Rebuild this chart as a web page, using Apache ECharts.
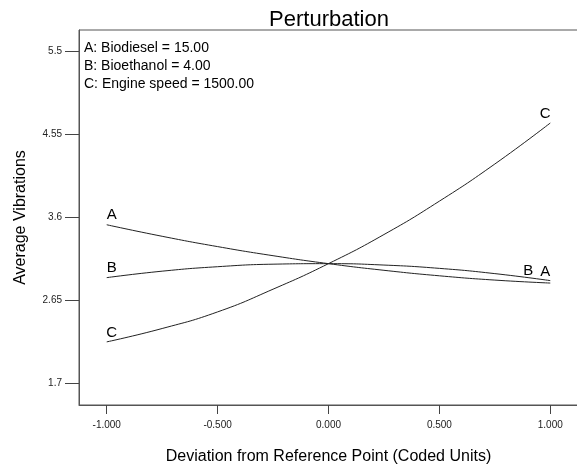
<!DOCTYPE html>
<html>
<head>
<meta charset="utf-8">
<script src="https://cdn.jsdelivr.net/npm/echarts@6/dist/echarts.min.js"></script>
<style>html,body{margin:0;padding:0;background:#fff}#c{width:577px;height:466px}</style>
</head>
<body>
<div id="c"></div>
<script>
const xValues = [-1, -0.75, -0.5, -0.25, 0, 0.25, 0.5, 0.75, 1];
const seriesA = [3.517, 3.385, 3.267, 3.163, 3.072, 2.996, 2.933, 2.884, 2.850];
const seriesB = [2.912, 2.986, 3.037, 3.066, 3.072, 3.056, 3.018, 2.958, 2.878];
const seriesC = [2.177, 2.33, 2.52, 2.78, 3.072, 3.405, 3.787, 4.212, 4.681];
const yTicks = [1.7, 2.65, 3.6, 4.55, 5.5];
const xTicks = [-1, -0.5, 0, 0.5, 1];
const factorLines = ['A: Biodiesel = 15.00', 'B: Bioethanol = 4.00', 'C: Engine speed = 1500.00'];
const seriesNames = ['A', 'B', 'C'];

const FONT = 'Liberation Sans, Arial, sans-serif';
const labelStyles = {
  A: [{position: 'top', offset: [5, 4]}, {position: 'top', offset: [-5, 2]}],
  B: [{position: 'top', offset: [5, 4]}, {position: 'top', offset: [-22, 4]}],
  C: [{position: 'top', offset: [5, 4]}, {position: 'top', offset: [-5, 4]}]
};

function buildData(name, vals) {
  return vals.map((v, i) => {
    const item = {value: [xValues[i], v]};
    if (i === 0 || i === vals.length - 1) {
      const s = labelStyles[name][i === 0 ? 0 : 1];
      item.label = {show: true, formatter: name, position: s.position, offset: s.offset,
        fontSize: 15, color: '#000', fontFamily: FONT, opacity: 1};
    }
    return item;
  });
}

const chart = echarts.init(document.getElementById('c'), null, {renderer: 'canvas'});
const allVals = {A: seriesA, B: seriesB, C: seriesC};
chart.setOption({
  animation: false,
  backgroundColor: '#fff',
  textStyle: {fontFamily: FONT},
  title: {
    text: 'Perturbation', left: 324, top: 4, textAlign: 'center',
    textStyle: {fontSize: 22, fontWeight: 'normal', color: '#000', fontFamily: FONT}
  },
  grid: {left: 79, top: 30, width: 499, height: 375, show: true, borderColor: '#555', borderWidth: 1,
    containLabel: false, outerBoundsMode: 'none'},
  xAxis: {
    type: 'value', min: -1.125, max: 1.125,
    name: 'Deviation from Reference Point (Coded Units)', nameLocation: 'middle', nameGap: 44,
    nameTextStyle: {fontSize: 16, color: '#000'},
    axisLine: {show: true, onZero: false, lineStyle: {color: '#555', width: 1}},
    axisTick: {show: true, customValues: xTicks, length: 9, lineStyle: {color: '#444'}},
    axisLabel: {show: true, customValues: xTicks, fontSize: 10, color: '#222', margin: 15,
      formatter: v => v.toFixed(3)},
    splitLine: {show: false}
  },
  yAxis: {
    type: 'value', min: 1.455, max: 5.745,
    name: 'Average Vibrations', nameLocation: 'middle', nameGap: 50, nameRotate: 90,
    nameTextStyle: {fontSize: 16, color: '#000'},
    axisLine: {show: true, onZero: false, lineStyle: {color: '#555', width: 1}},
    axisTick: {show: true, customValues: yTicks, length: 14, lineStyle: {color: '#444'}},
    axisLabel: {show: true, customValues: yTicks, fontSize: 10, color: '#222', margin: 17,
      formatter: v => String(v)},
    splitLine: {show: false}
  },
  graphic: [{
    type: 'text', left: 84, top: 39,
    style: {text: factorLines.join('\n'), fontSize: 14, lineHeight: 18, fill: '#000', fontFamily: FONT}
  }],
  series: seriesNames.map(n => ({
    type: 'line', name: n, smooth: true, showSymbol: true, symbol: 'circle', symbolSize: 2,
    showAllSymbol: true,
    itemStyle: {color: 'rgba(0,0,0,0)', borderWidth: 0},
    lineStyle: {color: '#222', width: 1},
    data: buildData(n, allVals[n])
  }))
});
</script>
</body>
</html>
